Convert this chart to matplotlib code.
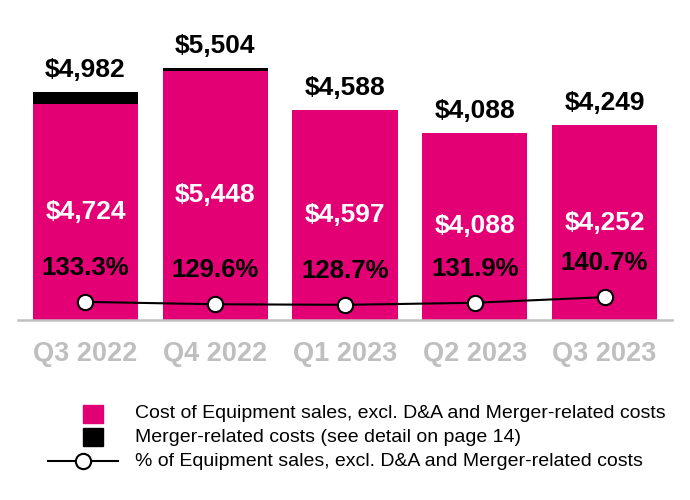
import matplotlib
matplotlib.use('Agg')
import matplotlib.pyplot as plt
from matplotlib.lines import Line2D
from matplotlib.patches import Rectangle

plt.rcParams['font.family'] = ['Liberation Sans', 'DejaVu Sans']

# data ($ millions)
quarters = ['Q3 2022', 'Q4 2022', 'Q1 2023', 'Q2 2023', 'Q3 2023']
totals = [4982, 5504, 4588, 4088, 4249]
equipment = [4724, 5448, 4597, 4088, 4252]
merger = [258, 56, 0, 0, 0]
pct = [133.3, 129.6, 128.7, 131.9, 140.7]

PINK = '#E20074'
GREY = '#BFBFBF'

fig = plt.figure(figsize=(6.9, 5), dpi=100)
ax = fig.add_axes([18 / 690, 180 / 500, 654 / 690, 297.6 / 500])

x = list(range(len(quarters)))
base = [t - m for t, m in zip(totals, merger)]
bars = ax.bar(x, base, width=0.81, color=PINK)
ax.bar(x, merger, bottom=base, width=0.81, color='black')

# value inside the pink bar
ax.bar_label(bars, labels=[f'${v:,}' for v in equipment], label_type='center',
             color='white', fontsize=19, fontweight='bold')
# total above the bar
for i, t in enumerate(totals):
    ax.annotate(f'${t:,}', (i, t), xytext=(0, 16), textcoords='offset points',
                ha='center', va='center', fontsize=19, fontweight='bold')

ax.set_xlim(-0.52, 4.52)
ax.set_ylim(0, 6500)
for s in ['top', 'left', 'right']:
    ax.spines[s].set_visible(False)
ax.spines['bottom'].set_color(GREY)
ax.spines['bottom'].set_linewidth(1.8)
ax.set_yticks([])
ax.set_xticks(x, quarters)
ax.tick_params(axis='x', length=0, pad=15, labelsize=19.5, labelcolor=GREY)
for lab in ax.get_xticklabels():
    lab.set_fontweight('bold')

# percentage line on its own scale
ax2 = ax.twinx()
ax2.plot(x, pct, color='black', lw=1.5, marker='o', ms=11,
         mfc='white', mec='black', mew=1.5)
for i, p in enumerate(pct):
    ax2.annotate(f'{p}%', (i, p), xytext=(0, 24.5), textcoords='offset points',
                 ha='center', va='center', fontsize=18.5, fontweight='bold')
ax2.set_ylim(105, 570)
ax2.axis('off')

# legend
fig.add_artist(Rectangle((83 / 690, 1 - 423 / 500), 20 / 690, 18 / 500,
                         transform=fig.transFigure, color=PINK))
fig.add_artist(Rectangle((83 / 690, 1 - 446 / 500), 20 / 690, 18 / 500,
                         transform=fig.transFigure, color='black'))
fig.add_artist(Line2D([48 / 690, 83 / 690, 118 / 690], [1 - 461 / 500] * 3,
                      transform=fig.transFigure, color='black', lw=1.5,
                      marker='o', ms=11, mfc='white', mec='black', mew=1.5,
                      markevery=[1]))
legend_labels = ['Cost of Equipment sales, excl. D&A and Merger-related costs',
                 'Merger-related costs (see detail on page 14)',
                 '% of Equipment sales, excl. D&A and Merger-related costs']
for lab, yy in zip(legend_labels, [414, 437, 461]):
    fig.text(135 / 690, 1 - yy / 500, lab, ha='left', va='center', fontsize=14)

fig.savefig('out.png', dpi=100)
